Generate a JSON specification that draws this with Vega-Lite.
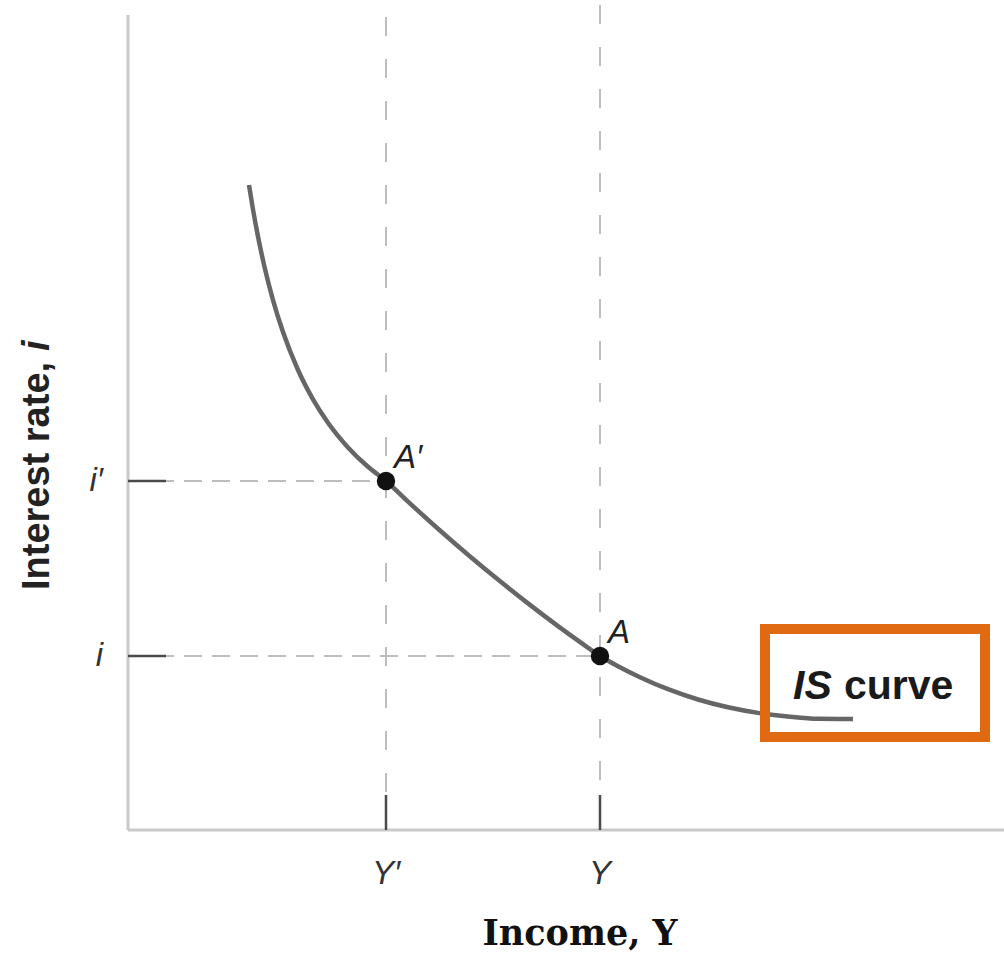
{
  "$schema": "https://vega.github.io/schema/vega-lite/v6.json",
  "autosize": "none",
  "width": 876,
  "height": 815,
  "padding": {"left": 128, "top": 15, "right": 0, "bottom": 123},
  "background": "white",
  "config": {"view": {"stroke": null}},
  "datasets": {
    "curve": [
      {"inc": 121, "rate": 645}, {"inc": 125, "rate": 620.5}, {"inc": 130, "rate": 593.5},
      {"inc": 137, "rate": 561}, {"inc": 145, "rate": 529.9}, {"inc": 155, "rate": 497.9},
      {"inc": 170, "rate": 460}, {"inc": 185, "rate": 430.7}, {"inc": 200, "rate": 407.3},
      {"inc": 220, "rate": 382.6}, {"inc": 240, "rate": 363.2}, {"inc": 258, "rate": 349},
      {"inc": 280, "rate": 328.4}, {"inc": 310, "rate": 301.3}, {"inc": 340, "rate": 275.3},
      {"inc": 370, "rate": 250.4}, {"inc": 400, "rate": 226.6}, {"inc": 430, "rate": 203.9},
      {"inc": 455, "rate": 185.9}, {"inc": 472, "rate": 174}, {"inc": 490, "rate": 163.8},
      {"inc": 512, "rate": 152.8}, {"inc": 540, "rate": 140.8}, {"inc": 570, "rate": 130.5},
      {"inc": 600, "rate": 122.7}, {"inc": 630, "rate": 117.1}, {"inc": 660, "rate": 113.5},
      {"inc": 690, "rate": 111.2}, {"inc": 725, "rate": 111}
    ],
    "points": [
      {"inc": 258, "rate": 349, "zero": 0, "tickEnd": 38, "tickTop": 35, "labY": -54, "labX": -25, "name": "A′", "tick": "Y′", "ylab": "i′"},
      {"inc": 472, "rate": 174, "zero": 0, "tickEnd": 38, "tickTop": 35, "labY": -54, "labX": -25, "name": "A", "tick": "Y", "ylab": "i"}
    ],
    "vdash": [
      {"inc": 258, "top": 813, "bottom": 35},
      {"inc": 472, "top": 825, "bottom": 35}
    ],
    "box": [{"x1": 637, "x2": 857, "y1": 93, "y2": 201}]
  },
  "layer": [
    {
      "data": {"values": [{"inc": 0, "lo": 0, "hi": 815}]},
      "mark": {"type": "rule", "color": "#c9c9c9", "strokeWidth": 3},
      "encoding": {
        "x": {"field": "inc", "type": "quantitative", "scale": {"domain": [0, 876], "nice": false, "zero": false}, "axis": null},
        "y": {"field": "lo", "type": "quantitative", "scale": {"domain": [0, 815], "nice": false, "zero": false}, "axis": null},
        "y2": {"field": "hi"}
      }
    },
    {
      "data": {"values": [{"rate": 0, "lo": 0, "hi": 876}]},
      "mark": {"type": "rule", "color": "#c9c9c9", "strokeWidth": 3},
      "encoding": {
        "y": {"field": "rate", "type": "quantitative", "axis": null},
        "x": {"field": "lo", "type": "quantitative", "axis": null},
        "x2": {"field": "hi"}
      }
    },
    {
      "data": {"name": "vdash"},
      "mark": {"type": "rule", "color": "#bdbdbd", "strokeWidth": 2, "strokeDash": [19, 23]},
      "encoding": {
        "x": {"field": "inc", "type": "quantitative", "axis": null},
        "y": {"field": "top", "type": "quantitative", "axis": null},
        "y2": {"field": "bottom"}
      }
    },
    {
      "data": {"name": "points"},
      "mark": {"type": "rule", "color": "#bdbdbd", "strokeWidth": 2, "strokeDash": [18, 10]},
      "encoding": {
        "y": {"field": "rate", "type": "quantitative", "axis": null},
        "x": {"field": "zero", "type": "quantitative", "axis": null},
        "x2": {"field": "inc"}
      }
    },
    {
      "data": {"name": "points"},
      "mark": {"type": "rule", "color": "#4a4a4a", "strokeWidth": 2.5},
      "encoding": {
        "y": {"field": "rate", "type": "quantitative", "axis": null},
        "x": {"field": "zero", "type": "quantitative", "axis": null},
        "x2": {"field": "tickEnd"}
      }
    },
    {
      "data": {"name": "points"},
      "mark": {"type": "rule", "color": "#4a4a4a", "strokeWidth": 2.5},
      "encoding": {
        "x": {"field": "inc", "type": "quantitative", "axis": null},
        "y": {"field": "zero", "type": "quantitative", "axis": null},
        "y2": {"field": "tickTop"}
      }
    },
    {
      "data": {"name": "curve"},
      "mark": {"type": "line", "color": "#666666", "strokeWidth": 4.5, "interpolate": "monotone"},
      "encoding": {
        "x": {"field": "inc", "type": "quantitative", "axis": null},
        "y": {"field": "rate", "type": "quantitative", "axis": null}
      }
    },
    {
      "data": {"name": "points"},
      "mark": {"type": "point", "shape": "circle", "filled": true, "color": "#111111", "size": 340, "opacity": 1},
      "encoding": {
        "x": {"field": "inc", "type": "quantitative", "axis": null},
        "y": {"field": "rate", "type": "quantitative", "axis": null}
      }
    },
    {
      "data": {"name": "points"},
      "mark": {"type": "text", "font": "Liberation Sans", "fontStyle": "italic", "fontSize": 33, "color": "#222222", "align": "left", "baseline": "alphabetic", "dx": 8, "dy": -13},
      "encoding": {
        "x": {"field": "inc", "type": "quantitative", "axis": null},
        "y": {"field": "rate", "type": "quantitative", "axis": null},
        "text": {"field": "name"}
      }
    },
    {
      "data": {"name": "points"},
      "mark": {"type": "text", "font": "Liberation Sans", "fontStyle": "italic", "fontSize": 33, "color": "#333333", "align": "center", "baseline": "alphabetic"},
      "encoding": {
        "x": {"field": "inc", "type": "quantitative", "axis": null},
        "y": {"field": "labY", "type": "quantitative", "axis": null},
        "text": {"field": "tick"}
      }
    },
    {
      "data": {"name": "points"},
      "mark": {"type": "text", "font": "Liberation Sans", "fontStyle": "italic", "fontSize": 33, "color": "#333333", "align": "right", "baseline": "middle"},
      "encoding": {
        "x": {"field": "labX", "type": "quantitative", "axis": null},
        "y": {"field": "rate", "type": "quantitative", "axis": null},
        "text": {"field": "ylab"}
      }
    },
    {
      "data": {"values": [{"t": "Interest rate,", "pos": 240, "h": -90}]},
      "mark": {"type": "text", "font": "Liberation Sans", "fontWeight": "bold", "fontSize": 38, "color": "#222222", "angle": 270, "align": "left", "baseline": "middle"},
      "encoding": {
        "x": {"field": "h", "type": "quantitative", "axis": null},
        "y": {"field": "pos", "type": "quantitative", "axis": null},
        "text": {"field": "t"}
      }
    },
    {
      "data": {"values": [{"t": "i", "pos": 479, "h": -90}]},
      "mark": {"type": "text", "font": "Liberation Sans", "fontWeight": "bold", "fontStyle": "italic", "fontSize": 38, "color": "#222222", "angle": 270, "align": "left", "baseline": "middle"},
      "encoding": {
        "x": {"field": "h", "type": "quantitative", "axis": null},
        "y": {"field": "pos", "type": "quantitative", "axis": null},
        "text": {"field": "t"}
      }
    },
    {
      "data": {"values": [{"t": "Income, Y", "pos": 452, "v": -115}]},
      "mark": {"type": "text", "font": "DejaVu Serif", "fontWeight": "bold", "fontSize": 35, "color": "#111111", "align": "center", "baseline": "alphabetic"},
      "encoding": {
        "x": {"field": "pos", "type": "quantitative", "axis": null},
        "y": {"field": "v", "type": "quantitative", "axis": null},
        "text": {"field": "t"}
      }
    },
    {
      "data": {"name": "box"},
      "mark": {"type": "rect", "fill": "white", "fillOpacity": 0, "stroke": "#E06A12", "strokeWidth": 10},
      "encoding": {
        "x": {"field": "x1", "type": "quantitative", "axis": null},
        "x2": {"field": "x2"},
        "y": {"field": "y1", "type": "quantitative", "axis": null},
        "y2": {"field": "y2"}
      }
    },
    {
      "data": {"values": [{"t": "IS", "pos": 665, "v": 131}]},
      "mark": {"type": "text", "font": "Liberation Sans", "fontWeight": "bold", "fontStyle": "italic", "fontSize": 41, "color": "#1a1a1a", "align": "left", "baseline": "alphabetic"},
      "encoding": {
        "x": {"field": "pos", "type": "quantitative", "axis": null},
        "y": {"field": "v", "type": "quantitative", "axis": null},
        "text": {"field": "t"}
      }
    },
    {
      "data": {"values": [{"t": "curve", "pos": 716, "v": 131}]},
      "mark": {"type": "text", "font": "Liberation Sans", "fontWeight": "bold", "fontSize": 41, "color": "#1a1a1a", "align": "left", "baseline": "alphabetic"},
      "encoding": {
        "x": {"field": "pos", "type": "quantitative", "axis": null},
        "y": {"field": "v", "type": "quantitative", "axis": null},
        "text": {"field": "t"}
      }
    }
  ]
}
